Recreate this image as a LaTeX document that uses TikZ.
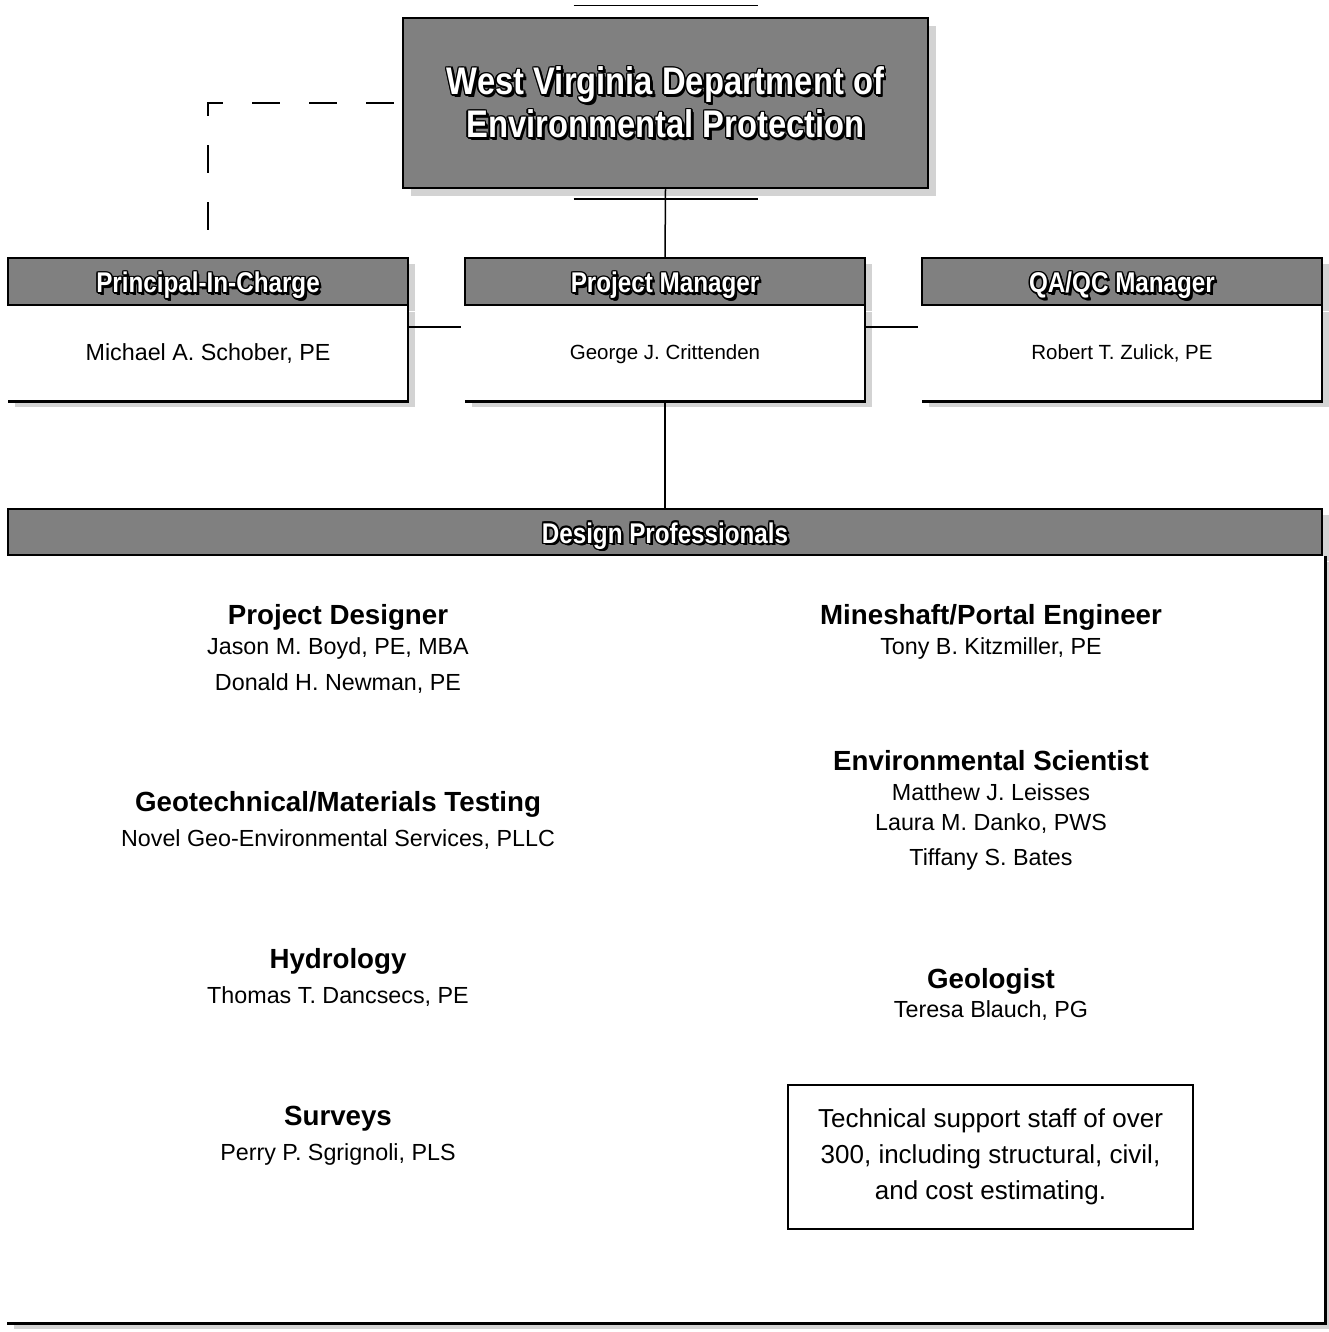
\documentclass[tikz,border=0pt]{standalone}
\usepackage{fontspec}
\setmainfont{Liberation Sans}
\newfontfamily\headfont[FakeStretch=0.85]{Liberation Sans}
\usetikzlibrary{positioning}
\usetikzlibrary{calc,shadows}

\definecolor{boxgray}{gray}{0.50}
\definecolor{shadegray}{gray}{0.66}

% white lettering with a dark rim
\newcommand\halo[1]{\leavevmode
  \foreach \hx/\hy in {-1.5/0,1.5/0,0/-1.5,0/1.5,-1.1/-1.1,1.1/-1.1,-1.1/1.1,1.1/1.1,2/-2,2.6/-2.6}{%
    \rlap{\hspace*{\hx pt}\raisebox{\hy pt}{\color{black}#1}}}%
  {\color{white}#1}}

\tikzset{
    topbox/.style={draw=black, line width=2.5pt, fill=boxgray, minimum width=525pt,
        minimum height=170pt, inner sep=0pt, align=center,
        drop shadow={shadow xshift=8pt, shadow yshift=-8pt, fill=shadegray},
        font=\headfont\bfseries\fontsize{38.5}{43}\selectfont},
    headbox/.style={draw=black, line width=2pt, fill=boxgray, minimum width=400pt,
        minimum height=47pt, inner sep=0pt, text height=24pt, text depth=2pt,
        drop shadow={shadow xshift=7pt, shadow yshift=-6pt, fill=shadegray},
        font=\headfont\bfseries\fontsize{28.5}{30}\selectfont},
    bodybox/.style={fill=white, minimum width=400pt, minimum height=95pt, inner sep=0pt,
        drop shadow={shadow xshift=7pt, shadow yshift=-6pt, fill=shadegray},
        font=\fontsize{20.5}{24}\selectfont},
    edgeline/.style={draw=black, line width=2.5pt},
    link/.style={draw=black, line width=1.5pt},
    dashlink/.style={draw=black, line width=1.5pt, dash pattern=on 28pt off 29pt},
    role/.style={anchor=base, inner sep=0pt, font=\bfseries\fontsize{27.7}{30}\selectfont},
    person/.style={anchor=base, inner sep=0pt, font=\fontsize{23.3}{28}\selectfont},
    techbox/.style={draw=black, line width=1.5pt, minimum width=405pt, minimum height=144pt,
        align=center, font=\fontsize{26}{36}\selectfont},
}

\begin{document}
\begin{tikzpicture}[x=1pt, y=-1pt]
\useasboundingbox (0,0) rectangle (1329,1332);
% \draw[step=100pt, very thin, gray] (0,0) grid (1329,1332);
\node[topbox] (wvdep) at (665.5,103) {\halo{West Virginia Department of}\\\halo{Environmental Protection}};
\draw[link] ($(wvdep.north)+(-92,-11)$) -- ($(wvdep.north)+(92,-11)$);

% three leads
\node[headbox] (pichead) at (208,281.5) {\halo{Principal-In-Charge}};
\node[bodybox, below=0pt of pichead, font=\fontsize{23.3}{28}\selectfont] (picbody) {Michael A. Schober, PE};
\node[headbox] (pmhead) at (665,281.5) {\halo{Project Manager}};
\node[bodybox, below=0pt of pmhead] (pmbody) {George J. Crittenden};
\node[headbox] (qahead) at (1122,281.5) {\halo{QA/QC Manager}};
\node[bodybox, below=0pt of qahead] (qabody) {Robert T. Zulick, PE};

% design team
\node[headbox, minimum width=1314pt, minimum height=46pt] (dphead) at (665,532) {\halo{Design Professionals}};
\node[bodybox, minimum width=1318pt, minimum height=767pt, anchor=north west] (dpbody) at (dphead.south west) {};

\foreach \b in {picbody,pmbody,qabody,dpbody}
    \draw[edgeline] (\b.north east) -- (\b.south east) -- (\b.south west);

% connectors
\draw[link] (wvdep.south) -- (pmhead.north);
\draw[link] ($(wvdep.south)+(-92,10)$) -- ($(wvdep.south)+(92,10)$);
\draw[dashlink, shorten <=8pt, shorten >=26pt] (wvdep.west) -| (pichead.north);
\draw[link, shorten >=4pt] ($(picbody.north east)!0.22!(picbody.south east)$) -- ($(pmbody.north west)!0.22!(pmbody.south west)$);
\draw[link, shorten >=4pt] ($(pmbody.north east)!0.22!(pmbody.south east)$) -- ($(qabody.north west)!0.22!(qabody.south west)$);
\draw[link] (pmbody.south) -- (dphead.north);

% left column
\node[role] (pdrole) at (338,624) {Project Designer};
\node[person] (pdboyd) at (338,654) {Jason M. Boyd, PE, MBA};
\node[person] (pdnewman) at (338,690) {Donald H. Newman, PE};
\node[role] (georole) at (338,811) {Geotechnical/Materials Testing};
\node[person] (geonovel) at (338,846) {Novel Geo-Environmental Services, PLLC};
\node[role] (hydrole) at (338,968) {Hydrology};
\node[person] (hyddancsecs) at (338,1003) {Thomas T. Dancsecs, PE};
\node[role] (survrole) at (338,1125) {Surveys};
\node[person] (survsgrignoli) at (338,1160) {Perry P. Sgrignoli, PLS};

% right column
\node[role] (minerole) at (991,624) {Mineshaft/Portal Engineer};
\node[person] (minekitz) at (991,654) {Tony B. Kitzmiller, PE};
\node[role] (envrole) at (991,770) {Environmental Scientist};
\node[person] (envleisses) at (991,800) {Matthew J. Leisses};
\node[person] (envdanko) at (991,830) {Laura M. Danko, PWS};
\node[person] (envbates) at (991,865) {Tiffany S. Bates};
\node[role] (geolrole) at (991,988) {Geologist};
\node[person] (geolblauch) at (991,1017) {Teresa Blauch, PG};
\node[techbox] (tech) at (990.5,1157) {Technical support staff of over\\300, including structural, civil,\\and cost estimating.};
\end{tikzpicture}
\end{document}
